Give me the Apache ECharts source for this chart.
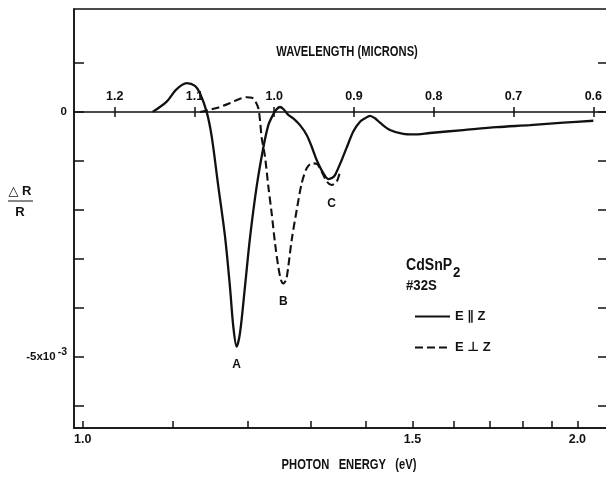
<!DOCTYPE html>
<html>
<head>
<meta charset="utf-8">
<script src="https://cdn.jsdelivr.net/npm/echarts@6/dist/echarts.min.js"></script>
<style>
html,body{margin:0;padding:0;background:#fff;}
#c{width:606px;height:478px;}
</style>
</head>
<body>
<div id="c"></div>
<script>
// ---- data (wavelength in microns, dR/R in units of 1e-3) ----
const solidLambda = [1.1524,1.1348,1.1232,1.1097,1.0993,1.0931,1.0847,1.0784,1.0701,1.0617,1.0555,1.0513,1.0471,1.0429,1.0367,1.0304,1.0220,1.0137,1.0074,1.0028,0.9978,0.9928,0.9886,0.9824,0.9761,0.9677,0.9593,0.9530,0.9468,0.9385,0.9322,0.9276,0.9238,0.9154,0.9092,0.9009,0.8925,0.8862,0.8800,0.8737,0.8674,0.8549,0.8382,0.8257,0.8047,0.7630,0.7211,0.6794,0.6376,0.6000];
const solidValue  = [0.00,0.21,0.45,0.586,0.53,0.38,0.00,-0.50,-1.52,-2.54,-3.57,-4.38,-4.79,-4.51,-3.57,-2.57,-1.52,-0.73,-0.27,-0.10,0.04,0.10,0.06,-0.06,-0.13,-0.27,-0.47,-0.71,-0.98,-1.25,-1.37,-1.35,-1.29,-0.98,-0.73,-0.40,-0.20,-0.13,-0.08,-0.13,-0.22,-0.37,-0.45,-0.46,-0.43,-0.37,-0.31,-0.27,-0.22,-0.18];
const dashLambda = [1.0931,1.0721,1.0555,1.0429,1.0345,1.0279,1.0241,1.0200,1.0179,1.0157,1.0116,1.0074,1.0032,0.9990,0.9949,0.9915,0.9886,0.9852,0.9824,0.9781,0.9718,0.9656,0.9593,0.9530,0.9468,0.9405,0.9342,0.9280,0.9217,0.9176];
const dashValue  = [0.00,0.08,0.18,0.27,0.30,0.29,0.23,0.08,-0.16,-0.53,-0.91,-1.52,-2.07,-2.68,-3.16,-3.43,-3.50,-3.43,-3.16,-2.61,-2.00,-1.46,-1.15,-1.05,-1.06,-1.22,-1.42,-1.49,-1.42,-1.22];

const wavelengthTicks = [1.2,1.1,1.0,0.9,0.8,0.7,0.6];
const energyTicks = [1.0,1.1,1.2,1.3,1.4,1.5,1.6,1.7,1.8,1.9,2.0];
const energyLabels = [1.0,1.5,2.0];
const yTicks = [1,0,-1,-2,-3,-4,-5,-6];
const yLabels = [0,-5];
const seriesNames = ['E \u2225 Z', 'E \u22A5 Z'];
const peakNames = ['A','B','C'];
const cIndex = 27; // point of dashed curve at structure C

const HC = 1.24; // eV*micron
const FONT = '"Liberation Sans","DejaVu Sans",sans-serif';

const solidData = solidLambda.map((l,i)=>[l, solidValue[i]]);
const dashData = dashLambda.map((l,i)=>[l, dashValue[i]]);

const xMin = 0.5816, xMax = 1.2510;
const yMin = -6.45, yMax = 2.1;
const G = {left: 74, right: -2, top: 9, bottom: 50};
const gridH = 478 - G.top - G.bottom;
const zeroFromBottom = (0 - yMin) / (yMax - yMin) * gridH;
const zeroFromTop = gridH - zeroFromBottom;

const chart = echarts.init(document.getElementById('c'), null, {renderer:'canvas'});
const lineC = '#111';
const txt = {fontFamily: FONT, fontWeight: 'bold', color: '#111'};

const markLabel = {show: true, position: 'bottom', distance: 12, fontSize: 12, ...txt};

chart.setOption({
  animation: false,
  backgroundColor: '#fff',
  grid: {...G, show: true, borderColor: lineC, borderWidth: 1.5, backgroundColor: 'transparent', outerBoundsMode: 'none', containLabel: false},
  xAxis: [
    { // bottom: photon energy
      type: 'value', inverse: true, min: xMin, max: xMax, position: 'bottom',
      axisLine: {onZero: false, lineStyle: {color: lineC, width: 1.5}},
      axisTick: {inside: true, length: 7, lineStyle: {color: lineC, width: 1.5}, customValues: energyTicks.map(e=>HC/e)},
      axisLabel: {customValues: energyLabels.map(e=>HC/e), formatter: v => (HC/v).toFixed(1), margin: 5, fontSize: 12.5, ...txt},
      splitLine: {show: false}
    },
    { // wavelength scale drawn along the zero line (upper half of ticks + labels)
      type: 'value', inverse: true, min: xMin, max: xMax, position: 'bottom', offset: -zeroFromBottom,
      axisLine: {onZero: false, lineStyle: {color: lineC, width: 1.5}},
      axisTick: {inside: true, length: 5, lineStyle: {color: lineC, width: 1.5}, customValues: wavelengthTicks},
      axisLabel: {inside: true, customValues: wavelengthTicks, formatter: v => v.toFixed(1), margin: 9, fontSize: 12.5, ...txt},
      splitLine: {show: false}
    },
    { // lower half of the wavelength ticks
      type: 'value', inverse: true, min: xMin, max: xMax, position: 'top', offset: -zeroFromTop,
      axisLine: {show: false, onZero: false},
      axisTick: {inside: true, length: 5, lineStyle: {color: lineC, width: 1.5}, customValues: wavelengthTicks},
      axisLabel: {show: false},
      splitLine: {show: false}
    }
  ],
  yAxis: [
    {
      type: 'value', min: yMin, max: yMax, position: 'left',
      axisLine: {show: true, onZero: false, lineStyle: {color: lineC, width: 1.5}},
      axisTick: {inside: true, length: 10, lineStyle: {color: lineC, width: 1.5}, customValues: yTicks},
      axisLabel: {
        customValues: yLabels, margin: 7,
        formatter: v => v === 0 ? '{n|0}' : '{n|' + v + 'x10}{s|-3}',
        rich: {n: {fontSize: 11.5, ...txt}, s: {fontSize: 10.5, ...txt, padding: [0,0,10,2]}}
      },
      splitLine: {show: false}
    },
    {
      type: 'value', min: yMin, max: yMax, position: 'right',
      axisLine: {show: true, onZero: false, lineStyle: {color: lineC, width: 1.5}},
      axisTick: {inside: true, length: 10, lineStyle: {color: lineC, width: 1.5}, customValues: yTicks},
      axisLabel: {show: false},
      splitLine: {show: false}
    }
  ],
  legend: {
    orient: 'vertical', left: 414, top: 310, padding: 0, itemWidth: 35, itemHeight: 14, itemGap: 18,
    data: seriesNames, selectedMode: false,
    itemStyle: {color: 'rgba(0,0,0,0)', borderColor: 'rgba(0,0,0,0)', borderWidth: 0},
    textStyle: {fontSize: 13, ...txt, padding: [0,0,0,0]}
  },
  series: [
    {
      name: seriesNames[0], type: 'line', xAxisIndex: 1, yAxisIndex: 0, data: solidData,
      smooth: 0.3, symbol: 'none', lineStyle: {color: lineC, width: 2.3}, itemStyle: {color: lineC},
      markPoint: {symbol: 'circle', symbolSize: 1, itemStyle: {color: 'rgba(0,0,0,0)'},
        data: [{type: 'min', name: peakNames[0]}],
        label: {...markLabel, formatter: peakNames[0]}}
    },
    {
      name: seriesNames[1], type: 'line', xAxisIndex: 1, yAxisIndex: 0, data: dashData,
      smooth: 0.3, symbol: 'none', lineStyle: {color: lineC, width: 2.1, type: [8, 4]}, itemStyle: {color: lineC},
      markPoint: {symbol: 'circle', symbolSize: 1, itemStyle: {color: 'rgba(0,0,0,0)'},
        data: [{type: 'min', name: peakNames[1], label: {formatter: peakNames[1]}},
               {coord: [dashLambda[cIndex], dashValue[cIndex]], name: peakNames[2], label: {formatter: peakNames[2]}}],
        label: markLabel}
    }
  ],
  graphic: [
    {type: 'text', x: 347, y: 52, scaleX: 0.8, style: {text: 'WAVELENGTH (MICRONS)', font: 'bold 14px ' + FONT, fill: '#111', align: 'center', verticalAlign: 'middle'}},
    {type: 'text', x: 349, y: 465, scaleX: 0.8, style: {text: 'PHOTON   ENERGY   (eV)', font: 'bold 14px ' + FONT, fill: '#111', align: 'center', verticalAlign: 'middle'}},
    {type: 'text', x: 20, y: 191, style: {text: '\u25B3 R', font: 'bold 13px ' + FONT, fill: '#111', align: 'center', verticalAlign: 'middle'}},
    {type: 'line', shape: {x1: 8, y1: 201, x2: 33, y2: 201}, style: {stroke: '#111', lineWidth: 1}},
    {type: 'text', x: 20, y: 212, style: {text: 'R', font: 'bold 13px ' + FONT, fill: '#111', align: 'center', verticalAlign: 'middle'}},
    {type: 'text', x: 406, y: 266, scaleX: 0.88, style: {text: 'CdSnP', font: 'bold 16px ' + FONT, fill: '#111', align: 'left', verticalAlign: 'middle'}},
    {type: 'text', x: 453, y: 273, scaleX: 0.88, style: {text: '2', font: 'bold 15px ' + FONT, fill: '#111', align: 'left', verticalAlign: 'middle'}},
    {type: 'text', x: 406, y: 286, scaleX: 0.88, style: {text: '#32S', font: 'bold 15px ' + FONT, fill: '#111', align: 'left', verticalAlign: 'middle'}}
  ]
});
</script>
</body>
</html>
